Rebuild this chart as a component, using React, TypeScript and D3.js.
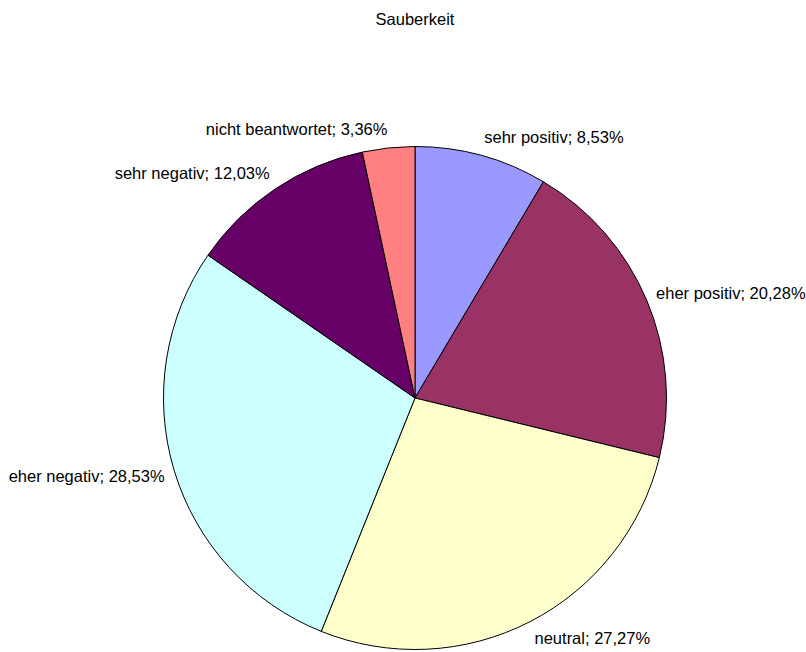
import React, { useEffect, useRef } from 'react';
import * as d3 from "d3";

const title = "Sauberkeit";
const categories = ["sehr positiv", "eher positiv", "neutral", "eher negativ", "sehr negativ", "nicht beantwortet"];
const values = [8.53, 20.28, 27.27, 28.53, 12.03, 3.36];
const colors = ["#9999FF", "#993366", "#FFFFCC", "#CCFFFF", "#660066", "#FF8080"];

interface Slice {
  name: string;
  value: number;
  color: string;
}

const slices: Slice[] = categories.map((c, i) => ({ name: c, value: values[i], color: colors[i] }));

const fmt = (v: number) => v.toFixed(2).replace(".", ",") + "%";

export default function App() {
  const ref = useRef<SVGSVGElement>(null);

  useEffect(() => {
    document.body.style.margin = "0";
    if (ref.current == null) return;
    const width = 806, height = 652;
    const cx = 415, cy = 398, radius = 251.5;
    const font = "Liberation Sans, Arial, sans-serif";

    const svg = d3.select(ref.current);
    svg.selectAll("*").remove();
    svg.attr("width", width).attr("height", height);

    svg.append("text")
      .attr("x", cx)
      .attr("y", 25)
      .attr("text-anchor", "middle")
      .attr("font-family", font)
      .attr("font-size", "16.5px")
      .attr("fill", "#000")
      .text(title);

    const pie = d3.pie<Slice>().sort(null).value(d => d.value);
    const arc = d3.arc<d3.PieArcDatum<Slice>>().innerRadius(0).outerRadius(radius);
    const arcs = pie(slices);

    const g = svg.append("g").attr("transform", "translate(" + cx + "," + cy + ")");

    g.selectAll("path.slice")
      .data(arcs)
      .enter()
      .append("path")
      .attr("class", "slice")
      .attr("d", arc)
      .attr("fill", d => d.data.color)
      .attr("stroke", "#000")
      .attr("stroke-width", 1);

    // labels outside the pie, anchored on the side they sit on
    const labelR = radius + 10;
    const mid = (d: d3.PieArcDatum<Slice>) => (d.startAngle + d.endAngle) / 2;
    g.selectAll("text.label")
      .data(arcs)
      .enter()
      .append("text")
      .attr("class", "label")
      .attr("x", d => labelR * Math.sin(mid(d)))
      .attr("y", d => -labelR * Math.cos(mid(d)) - Math.cos(mid(d)) * 9)
      .attr("dy", "0.35em")
      .attr("text-anchor", d => Math.sin(mid(d)) >= 0 ? "start" : "end")
      .attr("font-family", font)
      .attr("font-size", "16.5px")
      .attr("fill", "#000")
      .text(d => d.data.name + "; " + fmt(d.data.value));
  }, []);

  return (<svg ref={ref} style={{ display: "block" }}></svg>);
}
